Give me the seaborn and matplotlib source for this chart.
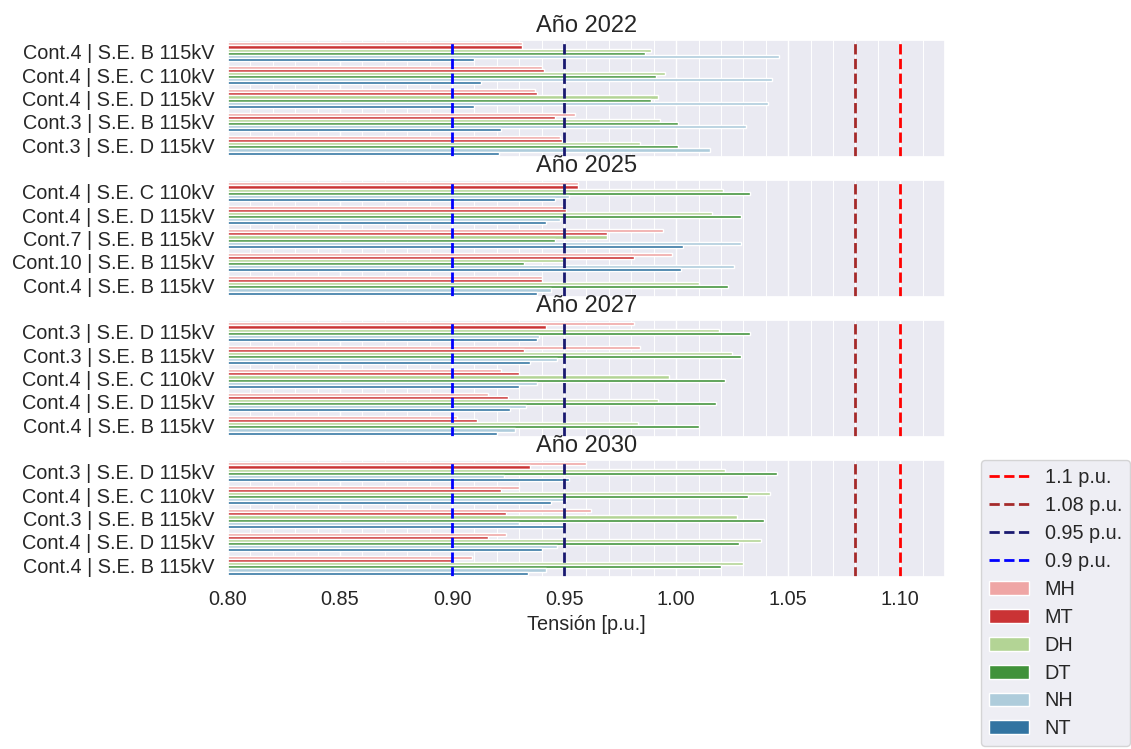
import matplotlib
matplotlib.use("Agg")
import matplotlib.pyplot as plt
import numpy as np
import pandas as pd
import seaborn as sns
from matplotlib.ticker import MultipleLocator, FormatStrFormatter
from matplotlib.lines import Line2D
from matplotlib.patches import Patch

# Voltage cases (hue levels)
cases = ["MH", "MT", "DH", "DT", "NH", "NT"]

# Year 2022: worst contingencies and voltages per case [p.u.]
cats_2022 = ["Cont.4 | S.E. B 115kV", "Cont.4 | S.E. C 110kV", "Cont.4 | S.E. D 115kV",
             "Cont.3 | S.E. B 115kV", "Cont.3 | S.E. D 115kV"]
vals_2022 = [
    [0.931, 0.931, 0.989, 0.986, 1.046, 0.910],
    [0.940, 0.941, 0.995, 0.991, 1.043, 0.913],
    [0.937, 0.938, 0.992, 0.989, 1.041, 0.910],
    [0.955, 0.946, 0.993, 1.001, 1.031, 0.922],
    [0.948, 0.949, 0.984, 1.001, 1.015, 0.921],
]

# Year 2025
cats_2025 = ["Cont.4 | S.E. C 110kV", "Cont.4 | S.E. D 115kV", "Cont.7 | S.E. B 115kV",
             "Cont.10 | S.E. B 115kV", "Cont.4 | S.E. B 115kV"]
vals_2025 = [
    [0.956, 0.956, 1.021, 1.033, 0.952, 0.946],
    [0.950, 0.951, 1.016, 1.029, 0.948, 0.942],
    [0.994, 0.969, 0.969, 0.946, 1.029, 1.003],
    [0.998, 0.981, 0.950, 0.932, 1.026, 1.002],
    [0.940, 0.940, 1.010, 1.023, 0.944, 0.938],
]

# Year 2027
cats_2027 = ["Cont.3 | S.E. D 115kV", "Cont.3 | S.E. B 115kV", "Cont.4 | S.E. C 110kV",
             "Cont.4 | S.E. D 115kV", "Cont.4 | S.E. B 115kV"]
vals_2027 = [
    [0.981, 0.942, 1.019, 1.033, 0.939, 0.938],
    [0.984, 0.932, 1.025, 1.029, 0.947, 0.935],
    [0.922, 0.930, 0.997, 1.022, 0.938, 0.930],
    [0.916, 0.925, 0.992, 1.018, 0.933, 0.926],
    [0.902, 0.911, 0.983, 1.010, 0.928, 0.920],
]

# Year 2030
cats_2030 = ["Cont.3 | S.E. D 115kV", "Cont.4 | S.E. C 110kV", "Cont.3 | S.E. B 115kV",
             "Cont.4 | S.E. D 115kV", "Cont.4 | S.E. B 115kV"]
vals_2030 = [
    [0.960, 0.935, 1.022, 1.045, 0.923, 0.952],
    [0.930, 0.922, 1.042, 1.032, 0.951, 0.944],
    [0.962, 0.924, 1.027, 1.039, 0.930, 0.950],
    [0.924, 0.916, 1.038, 1.028, 0.947, 0.940],
    [0.909, 0.900, 1.030, 1.020, 0.942, 0.934],
]

years = [2022, 2025, 2027, 2030]
year_cats = [cats_2022, cats_2025, cats_2027, cats_2030]
year_vals = [vals_2022, vals_2025, vals_2027, vals_2030]

# Voltage limits drawn as reference lines
limit_values = [1.10, 1.08, 0.95, 0.90]
limit_labels = ["1.1 p.u.", "1.08 p.u.", "0.95 p.u.", "0.9 p.u."]
limit_colors = ["red", "brown", "midnightblue", "blue"]

sns.set_theme(style="darkgrid", context="notebook", font_scale=1.3)
plt.rcParams["font.family"] = ["Liberation Sans", "DejaVu Sans"]

paired = sns.color_palette("Paired")
base = [paired[4], paired[5], paired[2], paired[3], paired[0], paired[1]]
colors = [sns.desaturate(c, 0.75) for c in base]

W, H = 1131, 749
fig = plt.figure(figsize=(W / 100, H / 100), dpi=100)
left, width = 228 / W, 717 / W
tops = [40, 180, 320, 460]
axh = 117

axes = []
for i, (year, cats, vals) in enumerate(zip(years, year_cats, year_vals)):
    top = tops[i]
    ax = fig.add_axes([left, 1 - (top + axh) / H, width, axh / H],
                      sharex=axes[0] if axes else None)
    axes.append(ax)

    rows = []
    for cat, row in zip(cats, vals):
        for case, v in zip(cases, row):
            rows.append({"Contingencia": cat, "Caso": case, "Tensión": v})
    df = pd.DataFrame(rows)

    sns.barplot(data=df, x="Tensión", y="Contingencia", hue="Caso",
                order=cats, hue_order=cases, palette=colors, saturation=1,
                orient="h", errorbar=None, edgecolor="white", linewidth=1,
                legend=False, ax=ax)

    for v, c in zip(limit_values, limit_colors):
        ax.axvline(v, color=c, linestyle="--", linewidth=2)

    ax.set_xlim(0.80, 1.12)
    ax.xaxis.set_major_locator(MultipleLocator(0.05))
    ax.xaxis.set_major_formatter(FormatStrFormatter("%.2f"))
    ax.xaxis.set_minor_locator(MultipleLocator(0.01))
    ax.grid(which="minor", axis="x", color="white", linewidth=0.7)
    ax.grid(visible=False, axis="y")
    ax.set_ylabel("")
    ax.set_title(f"Año {year}", fontsize=17)
    if i < len(years) - 1:
        ax.set_xlabel("")
        ax.tick_params(labelbottom=False)
    else:
        ax.set_xlabel("Tensión [p.u.]", fontsize=14.3)

handles = [Line2D([0], [0], color=c, linestyle="--", linewidth=2, label=l)
           for c, l in zip(limit_colors, limit_labels)]
handles += [Patch(facecolor=c, edgecolor="white", label=h) for c, h in zip(colors, cases)]
fig.legend(handles=handles, loc="upper left", bbox_to_anchor=(981 / W, 1 - 460 / H),
           borderaxespad=0, fontsize=14.3, labelspacing=0.45)

fig.savefig("out.png", dpi=100)
